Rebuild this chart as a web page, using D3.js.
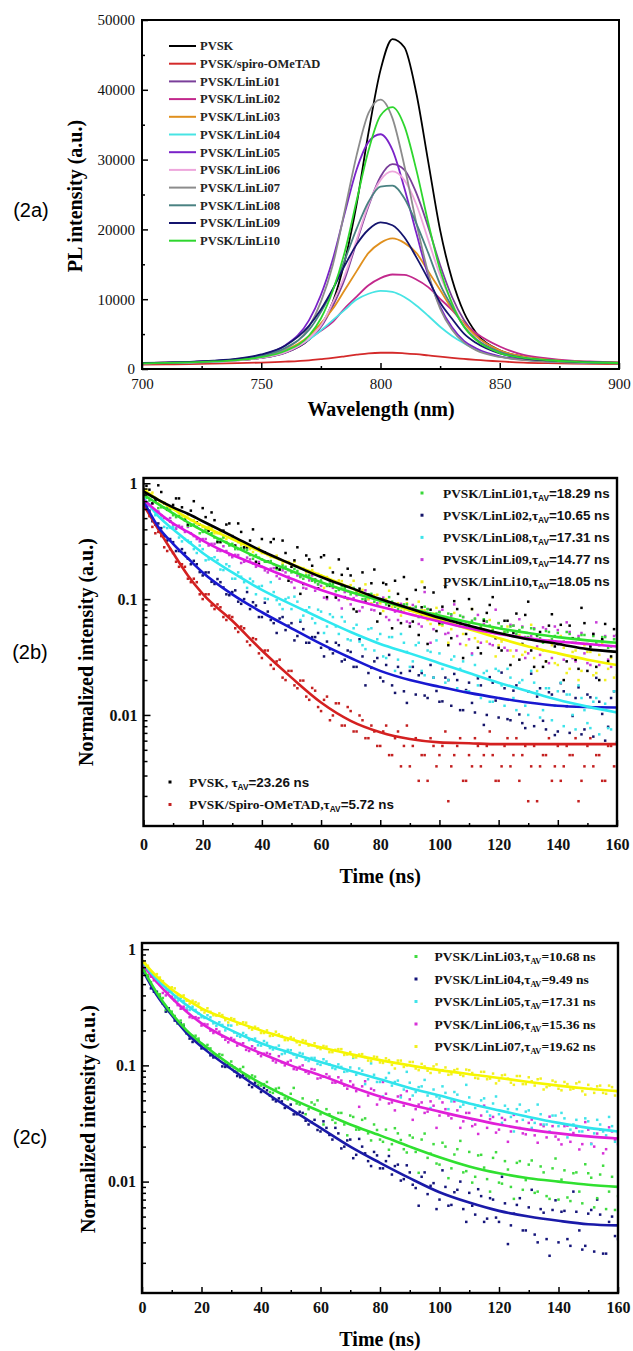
<!DOCTYPE html>
<html><head><meta charset="utf-8">
<script src="https://cdn.jsdelivr.net/npm/d3@7"></script>
<style>body{margin:0;background:#fff}svg{display:block}</style>
</head><body>
<svg id="c" width="633" height="1351"></svg>
<script>
// ---------------- DATA: (2a) PL spectra ----------------
const wavelengths = [700,710,720,730,740,750,760,770,775,780,785,790,795,800,805,810,815,820,825,830,835,840,850,860,870,880,890,900];
const plNames = ["PVSK","PVSK/spiro-OMeTAD","PVSK/LinLi01","PVSK/LinLi02","PVSK/LinLi03","PVSK/LinLi04","PVSK/LinLi05","PVSK/LinLi06","PVSK/LinLi07","PVSK/LinLi08","PVSK/LinLi09","PVSK/LinLi10"];
const plPVSK   = [808,864,943,1060,1262,1589,2338,4210,6176,9592,15442,23632,33928,42820,47266,46096,39544,29716,19888,12868,8094,5240,2666,1776,1355,1098,980,887];
const plSpiro  = [620,660,700,760,830,920,1050,1250,1420,1600,1820,2050,2250,2330,2330,2250,2120,1950,1780,1600,1450,1300,1080,920,830,770,730,700];
const plLinLi01 = [821,866,935,1044,1245,1590,2307,4230,6010,9023,12898,18207,23373,27535,29343,28539,25239,20360,14907,10315,7014,4862,2594,1676,1288,1067,953,878];
const plLinLi02 = [855,913,997,1113,1371,1784,2635,4312,5473,6763,8698,10375,11988,13020,13536,13471,12826,11730,10053,8440,6570,5151,3216,2029,1513,1203,1048,932];
const plLinLi03 = [846,898,979,1114,1348,1780,2680,4750,6550,8620,11320,14020,16630,18070,18700,18070,16630,14020,11320,8620,6550,4750,2680,1780,1348,1114,979,898];
const plLinLi04 = [819,861,931,1036,1267,1666,2559,4218,5530,7000,8470,9940,10780,11200,11043,10308,9100,7630,6055,4743,3693,2800,1771,1320,1078,952,879,824];
const plLinLi05 = [845,905,1004,1146,1426,1987,3373,6970,10600,15715,22315,28585,32545,33634,31390,25945,19510,13405,8950,5980,4033,2977,1822,1360,1113,974,891,835];
const plLinLi06 = [819,866,935,1045,1238,1611,2384,4371,6220,9532,13396,18502,23608,27058,28300,27058,23608,18502,13396,9532,6220,4371,2384,1611,1238,1045,935,866];
const plLinLi07 = [814,874,954,1090,1318,1799,2860,6006,9607,14913,22682,30641,36705,38600,35947,29125,20977,13776,8659,5627,3770,2709,1723,1287,1071,943,867,814];
const plLinLi08 = [854,911,1003,1137,1394,1882,3013,5583,8153,11366,15606,20104,23959,26143,26272,24473,20875,16634,12137,8924,6097,4298,2448,1625,1265,1086,965,885];
const plLinLi09 = [860,923,1021,1187,1471,2080,3339,6181,8516,11459,14809,17854,19985,21000,20594,18869,16027,12880,9531,7196,5065,3745,2223,1532,1228,1045,944,873];
const plLinLi10 = [818,877,951,1080,1283,1696,2582,4759,7231,11217,16752,24132,31327,36309,37526,34833,28560,20995,14169,9372,6051,4169,2287,1586,1254,1051,932,862];
const waveTicks = [700,750,800,850,900];
const waveMinorTicks = [725,775,825,875];
const plTicks = [0,10000,20000,30000,40000,50000];
const plMinorTicks = [5000,15000,25000,35000,45000];

// ---------------- DATA: (2b),(2c) TRPL decays ----------------
const fitTimes = [0,5,10,15,20,30,40,50,60,70,80,90,100,110,120,130,140,150,160];
const scatterTimes = [0,2,4,6,8,10,12,14,16,18,20,22,24,26,28,30,32,34,36,38,40,42,44,46,48,50,52,54,56,58,60,62,64,66,68,70,72,74,76,78,80,82,84,86,88,90,92,94,96,98,100,102,104,106,108,110,112,114,116,118,120,122,124,126,128,130,132,134,136,138,140,142,144,146,148,150,152,154,156,158,160];
const scatterTimesOdd = [1,3,5,7,9,11,13,15,17,19,21,23,25,27,29,31,33,35,37,39,41,43,45,47,49,51,53,55,57,59,61,63,65,67,69,71,73,75,77,79,81,83,85,87,89,91,93,95,97,99,101,103,105,107,109,111,113,115,117,119,121,123,125,127,129,131,133,135,137,139,141,143,145,147,149,151,153,155,157,159];
const timeTicks = [0,20,40,60,80,100,120,140,160];
const timeMinorTicks = [10,30,50,70,90,110,130,150];
const logTicks = [0.01,0.1,1];
const logTickLabels = ["0.01","0.1","1"];

// (2b) fits
const fitB_PVSK    = [.85,.72,.62,.545,.47,.35,.26,.2,.155,.125,.1,.083,.069,.059,.051,.045,.041,.037,.035];
const fitB_Spiro   = [.65,.4,.25,.16,.111,.065,.036,.021,.0128,.0089,.0071,.0062,.0058,.0057,.0056,.0056,.0056,.0056,.0056];
const fitB_LinLi01 = [.8,.66,.55,.46,.39,.29,.22,.175,.14,.115,.097,.083,.072,.063,.056,.051,.047,.044,.042];
const fitB_LinLi02 = [.7,.42,.3,.225,.17,.11,.077,.056,.041,.031,.024,.02,.0175,.0155,.014,.0128,.012,.0117,.0116];
const fitB_LinLi08 = [.75,.52,.4,.315,.25,.17,.12,.09,.068,.052,.041,.034,.028,.023,.019,.016,.0135,.0118,.0105];
const fitB_LinLi09 = [.72,.56,.45,.38,.32,.24,.19,.15,.12,.1,.086,.074,.064,.056,.05,.046,.043,.041,.039];
const fitB_LinLi10 = [.88,.72,.6,.5,.43,.33,.255,.2,.16,.125,.098,.08,.066,.055,.046,.039,.034,.03,.027];
// (2b) measured points, even ns
const ptsB_PVSK = [0.85,0.88,0.71,0.84,0.59,0.65,0.74,0.48,0.58,0.46,
 0.61,0.39,0.48,0.31,0.44,0.35,0.45,0.28,0.32,0.21,
 0.33,0.21,0.33,0.18,0.25,0.19,0.28,0.135,0.22,0.147,
 0.23,0.104,0.17,0.22,0.104,0.16,0.078,0.17,0.109,0.18,
 0.075,0.134,0.056,0.111,0.155,0.058,0.12,0.085,0.041,0.114,
 0.062,0.127,0.046,0.082,0.031,0.1,0.057,0.034,0.076,0.104,
 0.038,0.065,0.027,0.075,0.041,0.095,0.026,0.052,0.029,0.074,
 0.041,0.02,0.059,0.03,0.084,0.024,0.05,0.02,0.061,0.032,0.049];
const ptsB_Spiro = [0.64,0.52,0.37,0.35,0.26,0.25,0.19,0.19,0.14,0.14,
 0.1,0.11,0.082,0.085,0.066,0.07,0.052,0.056,0.04,0.045,
 0.031,0.036,0.025,0.03,0.02,0.024,0.017,0.0198,0.0135,0.0162,
 0.0108,0.0144,0.0099,0.0126,0.0081,0.0108,0.0072,0.009,0.0063,0.0072,
 0.0054,0.0081,0.0045,0.0072,0.0054,0.0036,0.0063,0.0045,0.0027,0.0054,
 0.0045,0.0072,0.0036,0.0054,0.0027,0.0045,0.0063,0.0036,0.0054,0.0045,
 0.0027,0.0054,0.0036,0.0063,0.0045,0.0018,0.0054,0.0036,0.0045,0.0027,
 0.0054,0.0036,0.0045,0.0063,0.0027,0.0054,0.0036,0.0045,0.0027,0.0054,0.0036];
const ptsB_LinLi01 = [0.8,0.71,0.7,0.62,0.61,0.53,0.52,0.49,0.43,0.42,
 0.38,0.39,0.34,0.33,0.31,0.3,0.27,0.27,0.24,0.24,
 0.22,0.21,0.2,0.18,0.19,0.17,0.175,0.15,0.16,0.14,
 0.145,0.13,0.135,0.12,0.125,0.11,0.115,0.1,0.11,0.095,
 0.1,0.09,0.095,0.082,0.09,0.08,0.086,0.073,0.082,0.07,
 0.077,0.065,0.074,0.062,0.07,0.06,0.068,0.057,0.064,0.054,
 0.062,0.052,0.058,0.05,0.057,0.047,0.055,0.046,0.053,0.045,
 0.051,0.043,0.05,0.042,0.049,0.041,0.048,0.04,0.047,0.039,0.045];
const ptsB_LinLi02 = [0.7,0.58,0.44,0.41,0.32,0.31,0.26,0.25,0.2,0.2,
 0.16,0.17,0.135,0.14,0.11,0.115,0.095,0.1,0.082,0.088,
 0.07,0.078,0.062,0.068,0.054,0.062,0.048,0.055,0.042,0.047,
 0.038,0.043,0.034,0.04,0.03,0.035,0.026,0.032,0.023,0.029,
 0.021,0.027,0.018,0.026,0.016,0.024,0.015,0.023,0.014,0.021,
 0.013,0.021,0.012,0.02,0.011,0.019,0.0105,0.018,0.01,0.019,
 0.0095,0.017,0.009,0.018,0.0085,0.016,0.008,0.017,0.0075,0.015,
 0.0072,0.016,0.007,0.014,0.0068,0.015,0.0065,0.013,0.006,0.014,0.0058];
const ptsB_LinLi08 = [0.74,0.66,0.53,0.5,0.41,0.42,0.34,0.33,0.31,0.25,
 0.27,0.22,0.23,0.18,0.2,0.15,0.17,0.14,0.15,0.11,
 0.13,0.1,0.115,0.09,0.1,0.082,0.095,0.072,0.085,0.062,
 0.078,0.058,0.07,0.05,0.064,0.044,0.06,0.04,0.055,0.036,
 0.05,0.031,0.047,0.03,0.042,0.026,0.04,0.024,0.036,0.021,
 0.034,0.019,0.03,0.017,0.029,0.016,0.027,0.014,0.024,0.013,
 0.024,0.012,0.021,0.011,0.02,0.01,0.019,0.0095,0.017,0.009,
 0.016,0.008,0.015,0.0075,0.014,0.0085,0.013,0.0068,0.0125,0.0075,0.011];
const ptsB_LinLi09 = [0.7,0.64,0.57,0.53,0.49,0.44,0.43,0.38,0.37,0.33,
 0.33,0.29,0.3,0.26,0.26,0.23,0.24,0.21,0.22,0.19,
 0.19,0.17,0.185,0.15,0.17,0.14,0.16,0.125,0.145,0.118,
 0.13,0.1,0.125,0.098,0.115,0.09,0.108,0.085,0.1,0.08,
 0.095,0.07,0.092,0.066,0.088,0.062,0.085,0.058,0.082,0.055,
 0.078,0.05,0.072,0.048,0.07,0.045,0.067,0.042,0.064,0.04,
 0.062,0.038,0.06,0.036,0.058,0.034,0.056,0.033,0.055,0.031,
 0.054,0.03,0.052,0.029,0.051,0.028,0.05,0.027,0.048,0.026,0.04];
const ptsB_LinLi10 = [0.86,0.8,0.74,0.69,0.63,0.6,0.55,0.51,0.48,0.45,
 0.42,0.42,0.37,0.38,0.33,0.34,0.31,0.3,0.27,0.27,
 0.25,0.24,0.23,0.22,0.21,0.2,0.19,0.185,0.17,0.165,
 0.16,0.155,0.14,0.145,0.125,0.132,0.118,0.12,0.1,0.108,
 0.092,0.1,0.085,0.092,0.078,0.085,0.072,0.08,0.066,0.075,
 0.06,0.07,0.055,0.066,0.05,0.062,0.046,0.058,0.043,0.055,
 0.04,0.052,0.036,0.048,0.033,0.046,0.031,0.044,0.029,0.04,
 0.027,0.038,0.025,0.036,0.024,0.035,0.022,0.033,0.02,0.031,0.022];
// (2b) measured points, odd ns
const ptsB_PVSK_odd = [.95,.67,.96,.67,.47,.74,.62,.44,.70,.44,
 .51,.56,.31,.39,.45,.29,.38,.28,.40,.2,
 .253,.31,.187,.32,.144,.216,.111,.238,.194,.124,
 .239,.13,.103,.162,.183,.082,.123,.095,.137,.064,
 .138,.088,.144,.062,.1,.064,.049,.126,.081,.053,
 .086,.04,.096,.062,.05,.082,.038,.065,.089,.046,
 .036,.065,.051,.03,.073,.036,.049,.026,.059,.039,
 .06,.029,.046,.025,.062,.039,.026,.045,.029,.055];
const ptsB_Spiro_odd = [.6,.42,.38,.28,.27,.21,.2,.15,.15,.11,
 .11,.088,.09,.07,.072,.056,.058,.043,.046,.034,
 .036,.027,.029,.021,.024,.018,.0198,.0144,.0171,.0117,
 .0135,.009,.0126,.0081,.0117,.0072,.0099,.0063,.0081,.0054,
 .0072,.0045,.0063,.0036,.0081,.0054,.0027,.0045,.0063,.0036,
 .0054,.0018,.0045,.0063,.0027,.0036,.0054,.0045,.0072,.0027,
 .0036,.0063,.0045,.0027,.0054,.0036,.0018,.0045,.0063,.0036,
 .0027,.0054,.0045,.0018,.0036,.0063,.0045,.0027,.0054,.0036];
const ptsB_LinLi01_odd = [.75,.77,.61,.615,.59,.51,.53,.43,.44,.37,
 .4,.37,.32,.34,.29,.27,.276,.266,.223,.228,
 .21,.213,.181,.195,.178,.182,.155,.16,.144,.134,
 .155,.136,.117,.129,.101,.125,.109,.1,.111,.088,
 .099,.104,.086,.079,.09,.083,.07,.086,.07,.075,
 .061,.075,.066,.072,.059,.065,.055,.067,.059,.051,
 .058,.052,.059,.054,.047,.056,.048,.042,.052,.048,
 .041,.052,.042,.046,.049,.039,.042,.047,.038,.045];
const ptsB_LinLi02_odd = [.63,.47,.45,.35,.33,.26,.27,.223,.214,.171,
 .17,.141,.149,.126,.108,.119,.091,.115,.094,.07,
 .093,.066,.051,.07,.059,.044,.064,.042,.047,.051,
 .032,.037,.042,.029,.036,.026,.045,.018,.0255,.031,
 .0195,.033,.0155,.023,.0127,.026,.022,.0147,.027,.0161,
 .0131,.02,.0226,.011,.0164,.0127,.0207,.0082,.0212,.0133,
 .0232,.0092,.0162,.0101,.0077,.0227,.0144,.0089,.0157,.0067,
 .0188,.0119,.0098,.0173,.0075,.0142,.0209,.0102,.0079,.016];
const ptsB_LinLi08_odd = [.66,.61,.56,.42,.415,.41,.315,.32,.27,.29,
 .216,.225,.217,.178,.192,.15,.156,.125,.142,.128,
 .101,.14,.098,.082,.103,.105,.066,.08,.068,.081,
 .051,.074,.058,.07,.045,.056,.043,.037,.056,.045,
 .032,.047,.024,.05,.035,.029,.042,.022,.035,.044,
 .025,.02,.032,.025,.016,.033,.018,.023,.013,.025,
 .018,.025,.014,.019,.012,.024,.016,.011,.017,.012,
 .019,.015,.01,.018,.011,.0077,.014,.0116,.0077,.016];
const ptsB_LinLi09_odd = [.63,.67,.57,.5,.5,.405,.42,.42,.35,.315,
 .33,.3,.262,.286,.24,.241,.205,.228,.203,.209,
 .177,.183,.158,.177,.156,.125,.157,.123,.16,.134,
 .103,.143,.105,.083,.117,.102,.079,.119,.081,.092,
 .103,.066,.078,.091,.064,.089,.061,.115,.042,.065,
 .081,.051,.09,.041,.063,.034,.073,.061,.041,.081,
 .045,.036,.059,.067,.031,.048,.039,.057,.028,.058,
 .041,.063,.031,.048,.034,.027,.063,.044,.03,.048];
const ptsB_LinLi10_odd = [.88,.83,.67,.68,.6,.6,.5,.53,.48,.48,
 .4,.41,.37,.34,.36,.325,.293,.3,.255,.277,
 .249,.231,.237,.203,.21,.21,.184,.17,.178,.165,
 .125,.186,.127,.143,.1,.144,.113,.134,.092,.109,
 .079,.118,.091,.072,.092,.073,.095,.08,.061,.084,
 .059,.042,.076,.061,.04,.082,.043,.055,.066,.032,
 .043,.058,.032,.049,.035,.06,.024,.036,.044,.028,
 .048,.023,.035,.02,.04,.035,.023,.042,.025,.021];
const legendB_names = ["PVSK/LinLi01","PVSK/LinLi02","PVSK/LinLi08","PVSK/LinLi09","PVSK/LinLi10"];
const legendB_tau = ["18.29","10.65","17.31","14.77","18.05"];
const legendB2_names = ["PVSK, ","PVSK/Spiro-OMeTAD,"];
const legendB2_tau = ["23.26","5.72"];

// (2c) fits
const fitC_LinLi03 = [.7,.42,.28,.2,.155,.1,.07,.052,.04,.031,.025,.02,.0162,.0135,.0118,.0107,.01,.0094,.009];
const fitC_LinLi04 = [.68,.4,.27,.19,.145,.093,.062,.042,.029,.02,.0145,.0107,.0081,.0066,.0056,.005,.0046,.0043,.0042];
const fitC_LinLi05 = [.78,.55,.42,.33,.27,.2,.155,.128,.107,.09,.076,.064,.055,.047,.041,.036,.032,.029,.027];
const fitC_LinLi06 = [.75,.52,.38,.29,.23,.165,.127,.1,.082,.066,.054,.046,.04,.035,.031,.028,.026,.0245,.0235];
const fitC_LinLi07 = [.8,.58,.45,.37,.31,.245,.2,.168,.143,.125,.111,.1,.091,.084,.078,.072,.067,.063,.06];
// (2c) measured points, even ns
const ptsC_LinLi03 = [0.7,0.6,0.45,0.41,0.3,0.29,0.23,0.225,0.18,0.18,
 0.148,0.15,0.125,0.125,0.104,0.108,0.088,0.097,0.077,0.08,
 0.067,0.072,0.058,0.064,0.052,0.057,0.047,0.052,0.042,0.046,
 0.038,0.042,0.034,0.039,0.031,0.037,0.028,0.034,0.026,0.031,
 0.023,0.028,0.021,0.026,0.019,0.025,0.018,0.023,0.016,0.021,
 0.014,0.02,0.013,0.019,0.012,0.018,0.011,0.017,0.0105,0.016,
 0.0098,0.015,0.009,0.0145,0.0085,0.014,0.008,0.0135,0.0075,0.013,
 0.007,0.0125,0.0068,0.012,0.0065,0.0118,0.006,0.0115,0.0058,0.011,0.0075];
const ptsC_LinLi04 = [0.68,0.58,0.43,0.39,0.29,0.28,0.23,0.22,0.17,0.168,
 0.14,0.14,0.117,0.118,0.097,0.1,0.081,0.083,0.068,0.071,
 0.059,0.061,0.051,0.052,0.043,0.046,0.038,0.039,0.031,0.034,
 0.027,0.029,0.023,0.026,0.02,0.023,0.017,0.02,0.015,0.018,
 0.013,0.015,0.0115,0.014,0.0105,0.012,0.0088,0.011,0.0078,0.0097,
 0.007,0.009,0.0063,0.0085,0.0058,0.008,0.0052,0.0075,0.0048,0.007,
 0.0045,0.0065,0.0042,0.0063,0.0038,0.006,0.0035,0.0058,0.0032,0.0057,
 0.003,0.0056,0.0028,0.0055,0.0026,0.0053,0.0025,0.0052,0.0024,0.005,0.0032];
const ptsC_LinLi05 = [0.78,0.69,0.57,0.54,0.44,0.44,0.36,0.36,0.3,0.3,
 0.26,0.27,0.23,0.235,0.2,0.22,0.18,0.19,0.165,0.17,
 0.148,0.156,0.137,0.148,0.127,0.135,0.117,0.126,0.109,0.116,
 0.101,0.108,0.095,0.102,0.088,0.096,0.083,0.09,0.076,0.083,
 0.072,0.078,0.067,0.074,0.062,0.071,0.059,0.066,0.055,0.062,
 0.052,0.058,0.049,0.056,0.046,0.053,0.043,0.05,0.04,0.047,
 0.038,0.045,0.036,0.042,0.034,0.041,0.032,0.038,0.031,0.037,
 0.03,0.035,0.028,0.034,0.027,0.033,0.026,0.031,0.025,0.03,0.026];
const ptsC_LinLi06 = [0.75,0.66,0.54,0.5,0.4,0.39,0.33,0.32,0.26,0.26,
 0.22,0.225,0.19,0.195,0.166,0.172,0.148,0.155,0.133,0.14,
 0.12,0.128,0.11,0.12,0.1,0.11,0.092,0.1,0.085,0.092,
 0.078,0.084,0.071,0.079,0.067,0.073,0.06,0.066,0.055,0.061,
 0.051,0.057,0.048,0.054,0.045,0.051,0.042,0.048,0.04,0.045,
 0.037,0.042,0.035,0.041,0.033,0.039,0.031,0.037,0.029,0.036,
 0.028,0.034,0.027,0.033,0.026,0.032,0.025,0.031,0.024,0.03,
 0.023,0.03,0.022,0.029,0.021,0.028,0.02,0.028,0.019,0.027,0.021];
const ptsC_LinLi07 = [0.8,0.72,0.6,0.57,0.47,0.47,0.4,0.4,0.34,0.35,
 0.3,0.31,0.27,0.28,0.245,0.255,0.225,0.235,0.21,0.215,
 0.19,0.2,0.18,0.185,0.165,0.175,0.158,0.165,0.148,0.155,
 0.138,0.145,0.13,0.138,0.123,0.13,0.117,0.125,0.11,0.119,
 0.106,0.115,0.101,0.11,0.097,0.107,0.094,0.103,0.09,0.098,
 0.087,0.096,0.084,0.093,0.081,0.091,0.078,0.088,0.076,0.085,
 0.074,0.083,0.071,0.081,0.069,0.079,0.067,0.077,0.065,0.074,
 0.063,0.072,0.062,0.07,0.06,0.068,0.058,0.067,0.057,0.065,0.059];
// (2c) measured points, odd ns
const ptsC_LinLi03_odd = [.67,.52,.41,.38,.29,.266,.243,.189,.179,.17,
 .141,.14,.121,.123,.097,.096,.093,.08,.082,.068,
 .069,.059,.063,.057,.051,.064,.046,.038,.048,.05,
 .031,.038,.032,.039,.025,.036,.028,.035,.0226,.0278,
 .022,.0188,.0288,.0228,.0178,.0239,.0119,.0259,.0174,.0143,
 .0216,.0107,.0171,.0224,.0123,.0098,.0168,.0132,.0082,.0179,
 .0096,.0127,.0071,.015,.0103,.0152,.0082,.012,.0071,.0158,
 .0104,.0073,.0118,.0082,.0141,.0108,.0072,.0137,.0082,.0057];
const ptsC_LinLi04_odd = [.64,.46,.43,.34,.31,.243,.23,.189,.159,.163,
 .141,.122,.12,.098,.102,.089,.079,.079,.065,.066,
 .064,.055,.049,.049,.0438,.0379,.0399,.0334,.0325,.0278,
 .033,.0252,.029,.0193,.0226,.0159,.0233,.0175,.0136,.0168,
 .013,.0166,.0136,.0102,.0138,.0094,.0062,.012,.0092,.0058,
 .0125,.0062,.0081,.01,.0045,.0062,.0086,.0045,.0072,.0049,
 .011,.0029,.0053,.0072,.0038,.0085,.003,.0054,.0023,.0069,
 .0055,.0032,.0082,.0038,.0028,.0057,.007,.0024,.0045,.0034];
const ptsC_LinLi05_odd = [.74,.61,.52,.53,.45,.38,.38,.31,.32,.28,
 .256,.259,.219,.223,.221,.192,.176,.182,.168,.149,
 .162,.141,.142,.125,.136,.124,.128,.112,.116,.103,
 .113,.102,.093,.097,.089,.116,.094,.069,.104,.072,
 .054,.086,.072,.053,.088,.055,.065,.075,.043,.054,
 .066,.042,.059,.044,.068,.034,.045,.052,.037,.054,
 .032,.042,.027,.046,.04,.029,.046,.031,.027,.037,
 .039,.024,.031,.027,.035,.021,.034,.027,.036,.022];
const ptsC_LinLi06_odd = [.74,.58,.53,.42,.43,.36,.307,.3,.256,.255,
 .227,.199,.205,.177,.158,.166,.153,.136,.146,.126,
 .126,.125,.106,.106,.107,.093,.097,.088,.093,.077,
 .08,.08,.071,.074,.063,.068,.044,.073,.063,.046,
 .072,.047,.041,.055,.06,.034,.046,.039,.049,.029,
 .048,.037,.049,.029,.039,.03,.0257,.045,.0345,.0264,
 .0353,.022,.0375,.0289,.0255,.0342,.0216,.03,.0362,.0244,
 .0209,.0303,.0262,.0189,.0325,.0212,.0259,.0175,.0293,.0229];
const ptsC_LinLi07_odd = [.76,.61,.61,.53,.45,.46,.39,.36,.36,.34,
 .285,.289,.268,.271,.234,.25,.228,.233,.203,.208,
 .19,.179,.195,.179,.165,.17,.15,.162,.149,.142,
 .147,.13,.136,.138,.124,.118,.124,.118,.109,.118,
 .105,.111,.094,.11,.1,.107,.091,.098,.086,.102,
 .091,.083,.091,.083,.092,.086,.077,.088,.077,.07,
 .082,.077,.068,.081,.069,.073,.076,.062,.067,.072,
 .061,.069,.063,.072,.056,.063,.066,.058,.067,.055];
const legendC_names = ["PVSK/LinLi03","PVSK/LinLi04","PVSK/LinLi05","PVSK/LinLi06","PVSK/LinLi07"];
const legendC_tau = ["10.68","9.49","17.31","15.36","19.62"];

// ---------------- STYLES ----------------
const plColors = ["#000000","#d42a2a","#7a3f9a","#c2288c","#e0901e","#48e4e4","#7a22c8","#eea6dc","#8c8c8c","#4a8282","#14146e","#2ed62e"];
const SERIF = "'Liberation Serif','Times New Roman',serif";
const SANS = "'Liberation Sans',Arial,sans-serif";
const svg = d3.select("#c");

function styleAxis(sel, size, weight){
  sel.attr("font-family",SERIF);
  sel.select(".domain").remove();
  sel.selectAll("line").attr("stroke","#000").attr("stroke-width",1.5);
  sel.selectAll("text").attr("font-family",SERIF).attr("font-size",size).attr("font-weight",weight).attr("fill","#111");
}

// ---------------- PANEL 2a ----------------
(function(){
  const L=142,R=619,T=20,B=369;
  const x = d3.scaleLinear().domain([700,900]).range([L,R]);
  const y = d3.scaleLinear().domain([0,50000]).range([B,T]);
  const series = [plPVSK,plSpiro,plLinLi01,plLinLi02,plLinLi03,plLinLi04,plLinLi05,plLinLi06,plLinLi07,plLinLi08,plLinLi09,plLinLi10];
  const line = d3.line().x(d=>x(d[0])).y(d=>y(d[1])).curve(d3.curveMonotoneX);
  const g = svg.append("g");
  series.forEach((s,i)=>{
    g.append("path").datum(wavelengths.map((w,j)=>[w,s[j]])).attr("d",line)
      .attr("fill","none").attr("stroke",plColors[i]).attr("stroke-width",1.8);
  });
  g.append("g").attr("transform",`translate(0,${B})`)
    .call(d3.axisBottom(x).tickValues(waveTicks).tickSize(-6).tickPadding(9).tickFormat(d3.format("d")))
    .call(s=>styleAxis(s,15,"normal"));
  g.append("g").attr("transform",`translate(0,${B})`)
    .call(d3.axisBottom(x).tickValues(waveMinorTicks).tickSize(-3).tickFormat(""))
    .call(s=>styleAxis(s,15,"normal"));
  g.append("g").attr("transform",`translate(${L},0)`)
    .call(d3.axisLeft(y).tickValues(plTicks).tickSize(-6).tickPadding(7).tickFormat(d3.format("d")))
    .call(s=>styleAxis(s,15,"normal"));
  g.append("g").attr("transform",`translate(${L},0)`)
    .call(d3.axisLeft(y).tickValues(plMinorTicks).tickSize(-3).tickFormat(""))
    .call(s=>styleAxis(s,15,"normal"));
  g.append("rect").attr("x",L).attr("y",T).attr("width",R-L).attr("height",B-T)
    .attr("fill","none").attr("stroke","#000").attr("stroke-width",2);
  plNames.forEach((n,i)=>{
    const yy = 46 + i*17.7;
    g.append("line").attr("x1",169).attr("x2",196).attr("y1",yy).attr("y2",yy)
      .attr("stroke",plColors[i]).attr("stroke-width",2);
    g.append("text").attr("x",200).attr("y",yy+4.3).text(n)
      .attr("font-family",SERIF).attr("font-weight","bold").attr("font-size",12.5).attr("fill","#222");
  });
  g.append("text").attr("x",381).attr("y",416).attr("text-anchor","middle").text("Wavelength (nm)")
    .attr("font-family",SERIF).attr("font-weight","bold").attr("font-size",20);
  g.append("text").attr("transform","translate(75,196) rotate(-90)").attr("dy","0.35em").attr("text-anchor","middle")
    .text("PL intensity (a.u.)").attr("font-family",SERIF).attr("font-weight","bold").attr("font-size",20);
  g.append("text").attr("x",31).attr("y",210).attr("dy","0.35em").attr("text-anchor","middle").text("(2a)")
    .attr("font-family",SANS).attr("font-size",20);
})();

// ---------------- DECAY PANELS ----------------
function decayPanel(cfg){
  const {L,R,T,B} = cfg;
  const x = d3.scaleLinear().domain([0,160]).range([L,R]);
  const y = d3.scaleLog().domain(cfg.yDomain).range([B,T]);
  const g = svg.append("g");
  const cid = cfg.id+"-clip";
  svg.append("clipPath").attr("id",cid).append("rect").attr("x",L).attr("y",T).attr("width",R-L).attr("height",B-T);
  const plot = g.append("g").attr("clip-path",`url(#${cid})`);
  cfg.dots.forEach(s=>{
    const pts = scatterTimes.map((t,i)=>[t,s.values[i]])
      .concat(scatterTimesOdd.map((t,i)=>[t,s.odd[i]])).filter(d=>d[1]>0);
    plot.append("g").selectAll("rect").data(pts)
      .join("rect").attr("x",d=>x(d[0])-1.25).attr("y",d=>y(d[1])-1.25)
      .attr("width",2.5).attr("height",2.5).attr("fill",s.color);
  });
  const line = d3.line().x(d=>x(d[0])).y(d=>y(d[1])).curve(d3.curveMonotoneX);
  cfg.fits.forEach(s=>{
    plot.append("path").datum(fitTimes.map((t,i)=>[t,s.values[i]])).attr("d",line)
      .attr("fill","none").attr("stroke",s.color).attr("stroke-width",2.6);
  });
  g.append("g").attr("transform",`translate(0,${B})`)
    .call(d3.axisBottom(x).tickValues(timeTicks).tickSize(-6).tickPadding(cfg.xPad).tickFormat(d3.format("d")))
    .call(s=>styleAxis(s,16,"bold"));
  g.append("g").attr("transform",`translate(0,${B})`)
    .call(d3.axisBottom(x).tickValues(timeMinorTicks).tickSize(-3).tickFormat(""))
    .call(s=>styleAxis(s,16,"bold"));
  g.append("g").attr("transform",`translate(${L},0)`)
    .call(d3.axisLeft(y).tickValues(logTicks).tickSize(-7).tickPadding(6).tickFormat((d,i)=>logTickLabels[i]))
    .call(s=>styleAxis(s,16,"bold"));
  const minor = [];
  [0.001,0.01,0.1].forEach(dec=>{ for(let k=2;k<=9;k++){ const v=dec*k; if(v>cfg.yDomain[0]&&v<cfg.yDomain[1]) minor.push(v);} });
  g.append("g").attr("transform",`translate(${L},0)`)
    .call(d3.axisLeft(y).tickValues(minor).tickSize(-4).tickFormat(""))
    .call(s=>styleAxis(s,16,"bold"));
  g.append("rect").attr("x",L).attr("y",T).attr("width",R-L).attr("height",B-T)
    .attr("fill","none").attr("stroke","#000").attr("stroke-width",2.4);
  g.append("text").attr("x",(L+R)/2).attr("y",cfg.xTitleY).attr("text-anchor","middle").text("Time (ns)")
    .attr("font-family",SERIF).attr("font-weight","bold").attr("font-size",20);
  g.append("text").attr("transform",`translate(${cfg.yTitleX},${cfg.yTitleY}) rotate(-90)`).attr("dy","0.35em")
    .attr("text-anchor","middle").text("Normalized intensity (a.u.)")
    .attr("font-family",SERIF).attr("font-weight","bold").attr("font-size",20);
  g.append("text").attr("x",30).attr("y",cfg.tagY).attr("dy","0.35em").attr("text-anchor","middle").text(cfg.tag)
    .attr("font-family",SANS).attr("font-size",20);
  cfg.legends.forEach(lg=>{
    lg.names.forEach((n,i)=>{
      const yy = lg.y0 + i*lg.dy;
      g.append("rect").attr("x",lg.dotX-1.5).attr("y",yy-1.5).attr("width",3).attr("height",3).attr("fill",lg.colors[i]);
      const t = g.append("text").attr("x",lg.textX).attr("y",yy+4.5).attr("font-weight","bold").attr("fill","#111");
      t.append("tspan").attr("font-family",SERIF).attr("font-size",lg.size).text(n+(lg.comma?",":"")+"\u03C4");
      t.append("tspan").attr("font-family",lg.numFont).attr("font-size",lg.size*0.62).attr("dy",3).text("AV");
      t.append("tspan").attr("font-family",lg.numFont).attr("font-size",lg.size).attr("dy",-3).text("="+lg.tau[i]+" ns");
    });
  });
}

decayPanel({
  id:"p2b", L:143.5, R:617, T:478, B:826, yDomain:[0.0011,1.11], xPad:13, xTitleY:883,
  yTitleX:86, yTitleY:652, tag:"(2b)", tagY:652,
  dots:[
    {values:ptsB_Spiro,odd:ptsB_Spiro_odd,color:"#c42020"},
    {values:ptsB_LinLi02,odd:ptsB_LinLi02_odd,color:"#14146a"},
    {values:ptsB_LinLi08,odd:ptsB_LinLi08_odd,color:"#3ce4ea"},
    {values:ptsB_LinLi09,odd:ptsB_LinLi09_odd,color:"#c83cd8"},
    {values:ptsB_LinLi10,odd:ptsB_LinLi10_odd,color:"#f2f020"},
    {values:ptsB_LinLi01,odd:ptsB_LinLi01_odd,color:"#38d838"},
    {values:ptsB_PVSK,odd:ptsB_PVSK_odd,color:"#000000"}
  ],
  fits:[
    {values:fitB_Spiro,color:"#d42020"},
    {values:fitB_LinLi02,color:"#1818d0"},
    {values:fitB_LinLi08,color:"#30e8f0"},
    {values:fitB_LinLi10,color:"#f4f400"},
    {values:fitB_LinLi09,color:"#e018e0"},
    {values:fitB_LinLi01,color:"#30e030"},
    {values:fitB_PVSK,color:"#000000"}
  ],
  legends:[
    {names:legendB_names,tau:legendB_tau,colors:["#38d838","#14146a","#3ce4ea","#c83cd8","#f2f020"],
     dotX:422,textX:443,y0:493,dy:22.2,size:13.4,numFont:SANS,comma:true},
    {names:legendB2_names,tau:legendB2_tau,colors:["#000000","#c42020"],
     dotX:170,textX:189,y0:782,dy:22.5,size:13.4,numFont:SANS,comma:false}
  ]
});

decayPanel({
  id:"p2c", L:142, R:618, T:943, B:1293, yDomain:[0.0011,1.13], xPad:9, xTitleY:1346,
  yTitleX:88, yTitleY:1119, tag:"(2c)", tagY:1137,
  dots:[
    {values:ptsC_LinLi04,odd:ptsC_LinLi04_odd,color:"#14147a"},
    {values:ptsC_LinLi03,odd:ptsC_LinLi03_odd,color:"#40dc40"},
    {values:ptsC_LinLi06,odd:ptsC_LinLi06_odd,color:"#d830d8"},
    {values:ptsC_LinLi05,odd:ptsC_LinLi05_odd,color:"#40e4ea"},
    {values:ptsC_LinLi07,odd:ptsC_LinLi07_odd,color:"#f2f020"}
  ],
  fits:[
    {values:fitC_LinLi04,color:"#1a1aa8"},
    {values:fitC_LinLi03,color:"#30e030"},
    {values:fitC_LinLi06,color:"#e020d8"},
    {values:fitC_LinLi05,color:"#30e4ec"},
    {values:fitC_LinLi07,color:"#f6f600"}
  ],
  legends:[
    {names:legendC_names,tau:legendC_tau,colors:["#40dc40","#14147a","#40e4ea","#d830d8","#f2f020"],
     dotX:416,textX:434.5,y0:956.5,dy:22.5,size:13.5,numFont:SERIF,comma:true}
  ]
});
</script>
</body></html>
